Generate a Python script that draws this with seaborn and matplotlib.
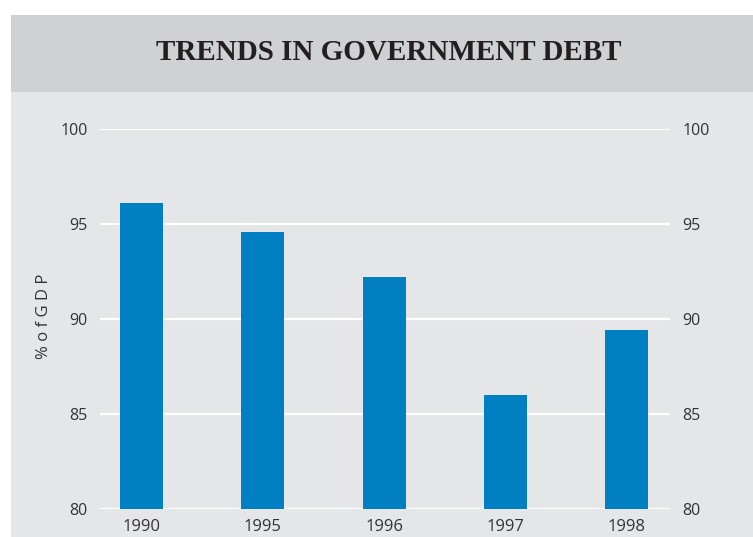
import matplotlib
matplotlib.use("Agg")
import matplotlib.pyplot as plt
import seaborn as sns
import pandas as pd
from matplotlib.patches import Rectangle

# Government debt as a share of GDP
years = ["1990", "1995", "1996", "1997", "1998"]
debt_pct_gdp = [96.1, 94.6, 92.2, 86.0, 89.4]
y_ticks = [80, 85, 90, 95, 100]

title_text = "TRENDS IN GOVERNMENT DEBT"
y_label = "% o f G D P"

df = pd.DataFrame({"year": years, "debt": debt_pct_gdp})

sns.set_theme(style="white")
plt.rcParams["font.family"] = ["Open Sans", "DejaVu Sans"]

W, H = 753, 537
fig = plt.figure(figsize=(W / 100, H / 100), dpi=100)
fig.patch.set_facecolor("white")

# panel background and title band
fig.patches.append(Rectangle((11 / W, 0), 1 - 11 / W, (H - 15) / H,
                             transform=fig.transFigure, facecolor="#e5e6e8",
                             edgecolor="none", zorder=-2))
fig.patches.append(Rectangle((11 / W, (H - 92) / H), 1 - 11 / W, 77 / H,
                             transform=fig.transFigure, facecolor="#d0d1d3",
                             edgecolor="none", zorder=-1))
fig.text(389 / W, (H - 53) / H, title_text, ha="center", va="center",
         fontsize=21, fontweight="bold", family="Liberation Serif",
         color="#231f20")

ax = fig.add_axes([100 / W, (H - 509) / H, 570 / W, 380 / H])
ax.set_zorder(1)
ax.set_facecolor("none")

sns.barplot(data=df, x="year", y="debt", color="#0080c3", saturation=1,
            width=0.355, linewidth=0, edgecolor="none", ax=ax, zorder=2)

ax.set_ylim(80, 100)
ax.set_xlim(-0.345, 4.36)
ax.set_yticks(y_ticks)
ax.yaxis.grid(True, color="white", linewidth=1.6, zorder=1)
ax.set_axisbelow(True)
for s in ax.spines.values():
    s.set_visible(False)

ax.tick_params(axis="y", left=False, right=False, length=0, labelleft=True,
               labelright=True, labelsize=11.5, labelcolor="#333333", pad=9)
ax.tick_params(axis="x", bottom=False, length=0, labelsize=12,
               labelcolor="#333333", pad=7)
ax.set_xlabel("")
ax.set_ylabel("")
fig.text(44 / W, (H - 316) / H, y_label, rotation=90, ha="center",
         va="center", fontsize=12, color="#333333")

fig.savefig("out.png", dpi=100, facecolor=fig.get_facecolor())
